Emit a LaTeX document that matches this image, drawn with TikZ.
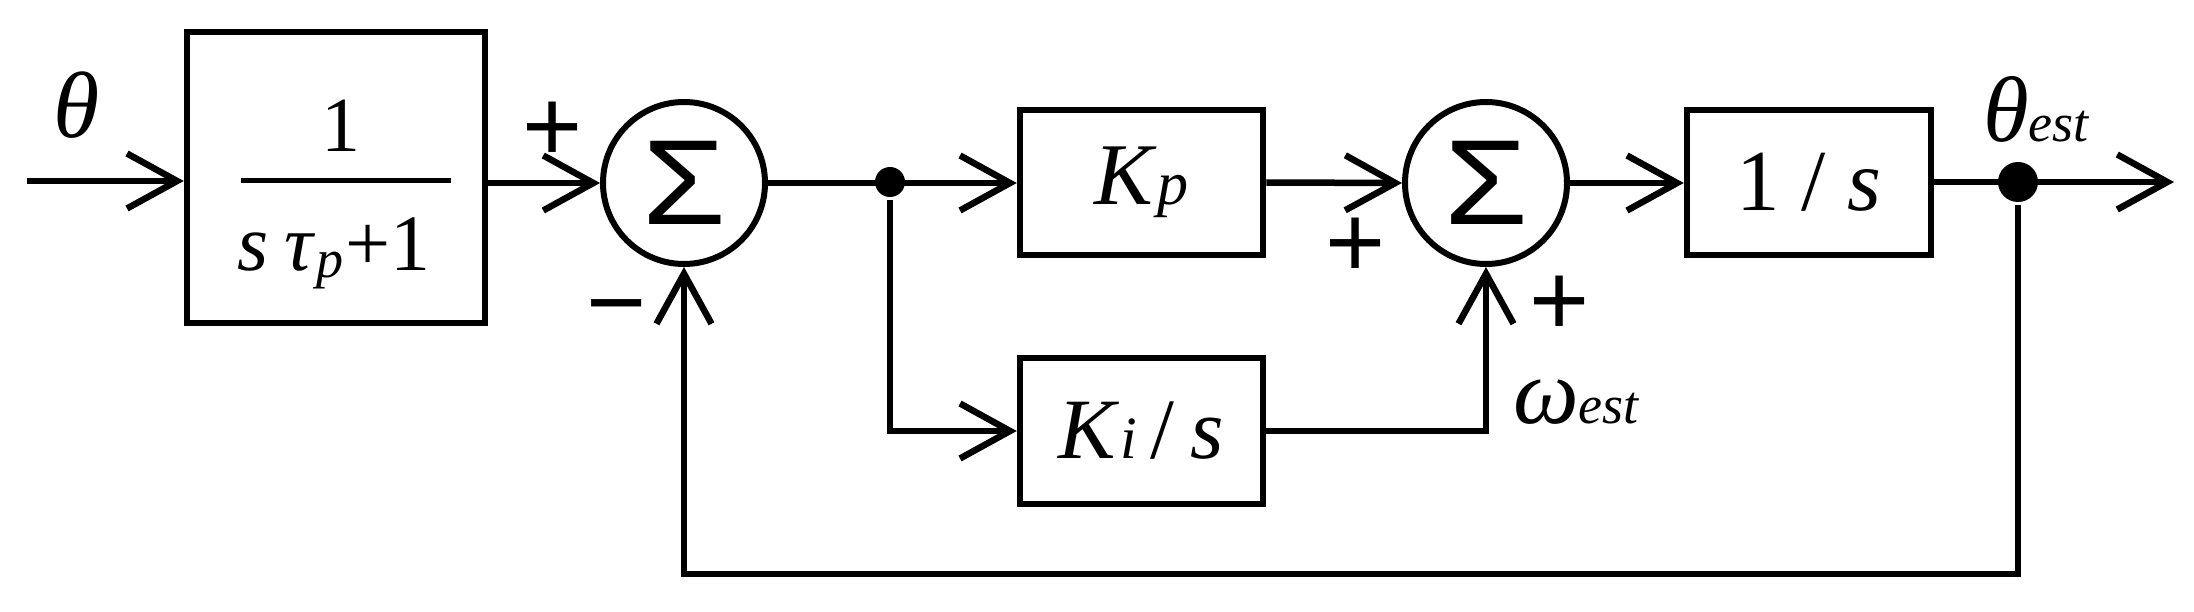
\documentclass[tikz,border=0pt]{standalone}
\usepackage{fontspec}
\setmainfont{Liberation Serif}
\newfontfamily\sansf{Liberation Sans}
\usetikzlibrary{arrows.meta}
\newcommand\myfs[1]{\fontsize{#1}{#1}\selectfont}
\begin{document}
\begin{tikzpicture}[x=1pt,y=-1pt,line width=6.5pt,
  blk/.style={draw,rectangle,inner sep=0pt,line width=6.5pt},
  sumc/.style={draw,circle,minimum size=162pt,inner sep=0pt,line width=6pt},
  arr/.style={-{Straight Barb[length=50pt,width=55pt]}},
  dotn/.style={circle,fill,inner sep=0pt},
  sign/.style={font=\sansf\myfs{103},inner sep=0pt,anchor=base},
  lab/.style={inner sep=0pt}]
\useasboundingbox (0,0) rectangle (2194,612);
% blocks
\node[blk,minimum width=298pt,minimum height=291pt] (g) at (336,177.5) {};
\node[blk,minimum width=243pt,minimum height=145pt,font=\myfs{88}] (kp) at (1141.5,182.5) {\textit{K}{\myfs{62}\textit{p}}};
\node[blk,minimum width=243pt,minimum height=146pt,font=\myfs{86}] (ki) at (1141.5,431) {\textit{K}{\myfs{60}\textit{i}}\hspace{14pt}/\hspace{16pt}\textit{s}};
\node[blk,minimum width=244pt,minimum height=145pt,font=\myfs{87}] (is) at (1809,182.5) {1 / \textit{s}};
% sums
\node[sumc] (s1) at (684,183) {\scalebox{1.12}[1]{\sansf\myfs{121}Σ}};
\node[sumc] (s2) at (1486,183) {\scalebox{1.12}[1]{\sansf\myfs{121}Σ}};
% fraction
\node[lab,anchor=base,font=\myfs{78}] (num) at (341,152) {1};
\draw[line width=5pt] (241,181) -- (451,181);
\node[lab,anchor=base,font=\myfs{80}] (den) at (334,271) {\textit{s}\hspace{16pt}\textit{τ}\raisebox{-6pt}{\myfs{54}\textit{p}}\hspace{2pt}+1};
% dots
\node[dotn,minimum size=30pt] (j) at (890,182) {};
\node[dotn,minimum size=40pt] (d2) at (2018,182) {};
\coordinate (in) at (27,181);
\coordinate (out) at (2174,182);
\coordinate (fb) at (2018,574);
% connectors
\draw[arr] (in) -- (in -| g.west);
\draw[arr] (g.east |- s1) -- (s1.west);
\draw[arr] (s1.east) -- (kp.west |- s1.east);
\draw[arr] (j) |- (ki.west);
\draw[arr] (kp.east) -- (s2.west);
\draw[arr] (ki.east) -| (s2.south);
\draw[arr] (s2.east) -- (is.west |- s2.east);
\draw[arr] (is.east |- d2) -- (out);
\draw[arr] (d2) -- (fb) -| (s1.south);
% signs and labels
\node[sign] (p1) at (553,162) {+};
\node[sign] (m1) at (617,337) {−};
\node[sign] (p2) at (1356,277) {+};
\node[sign] (p3) at (1560,335) {+};
\node[lab,anchor=base west,font=\myfs{94}] (th) at (50,138) {\textit{θ}};
\node[lab,anchor=base west,font=\myfs{93}] (te) at (1980,142) {\textit{θ}{\myfs{54}\textit{est}}};
\node[lab,anchor=base west,font=\myfs{93}] (we) at (1510,423) {\textit{ω}{\myfs{54}\textit{est}}};
\end{tikzpicture}
\end{document}
